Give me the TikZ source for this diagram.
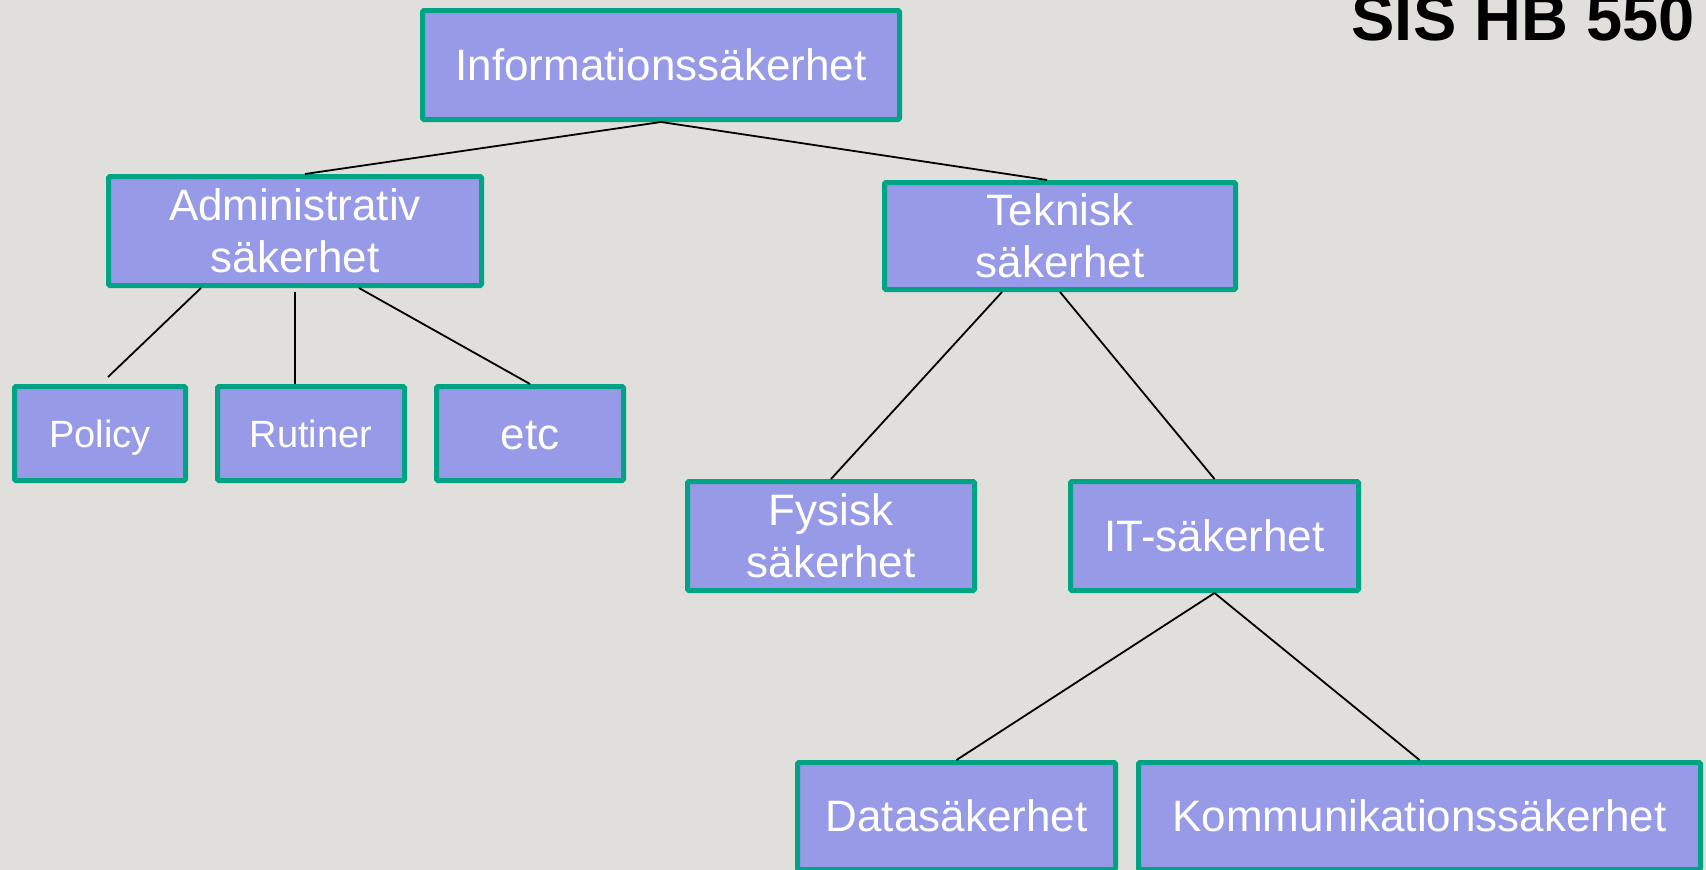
\documentclass[tikz,border=0pt]{standalone}
\usepackage{fontspec}
\setmainfont{Liberation Sans}
\usetikzlibrary{calc}
\definecolor{bgc}{HTML}{E0DFDB}
\definecolor{boxfill}{HTML}{979AE6}
\definecolor{boxline}{HTML}{00A384}
\tikzset{
  box/.style={draw=boxline, fill=boxfill, line width=5pt, rectangle, rounded corners=1.5pt,
    text=white, inner sep=0pt, align=center, font=\fontsize{44}{52}\selectfont},
  onel/.style={text height=31.7pt, text depth=0pt},
  small/.style={font=\fontsize{38}{45}\selectfont, text height=27.4pt, text depth=0pt},
  conn/.style={draw=black, line width=1.8pt}
}
\begin{document}
\begin{tikzpicture}[x=1pt, y=-1pt]
\fill[bgc] (0,0) rectangle (1706,870);
\useasboundingbox (0,0) rectangle (1706,870);

\node[anchor=base east, inner sep=0pt, font=\fontsize{65}{70}\selectfont\bfseries] (title) at (1695,40) {SIS HB 550};

\node[box, onel, minimum width=477pt, minimum height=109pt] (info) at (661,65) {Informationssäkerhet};
\node[box, minimum width=373pt, minimum height=109pt] (admin) at (295,231) {Administrativ\\säkerhet};
\node[box, minimum width=351pt, minimum height=107pt] (teknisk) at (1060,236) {Teknisk\\säkerhet};
\node[box, small, minimum width=171pt, minimum height=94pt] (policy) at (100,433.5) {Policy};
\node[box, small, minimum width=187pt, minimum height=94pt] (rutiner) at (311,433.5) {Rutiner};
\node[box, onel, minimum width=187pt, minimum height=94pt] (etc) at (530,433.5) {etc};
\node[box, minimum width=287pt, minimum height=109pt] (fysisk) at (831,536) {Fysisk\\säkerhet};
\node[box, onel, minimum width=288pt, minimum height=109pt] (it) at (1214.5,536) {IT-säkerhet};
\node[box, onel, minimum width=318pt, minimum height=107pt] (data) at (956.5,816) {Datasäkerhet};
\node[box, onel, minimum width=562pt, minimum height=107pt] (komm) at (1419.5,816) {Kommunikationssäkerhet};

\draw[conn] (info.south) -- ($(admin.north)+(10,0)$);
\draw[conn] (info.south) -- ($(teknisk.north)+(-13,0)$);
\draw[conn] ($(admin.south)+(-94,0)$) -- ($(policy.north)+(8,-7)$);
\draw[conn] ($(admin.south)+(0,4)$) -- (admin.south |- rutiner.north);
\draw[conn] ($(admin.south)+(64,0)$) -- (etc.north);
\draw[conn] ($(teknisk.south)+(-58,0)$) -- (fysisk.north);
\draw[conn] (teknisk.south) -- (it.north);
\draw[conn] (it.south) -- (data.north);
\draw[conn] (it.south) -- (komm.north);
\end{tikzpicture}
\end{document}
